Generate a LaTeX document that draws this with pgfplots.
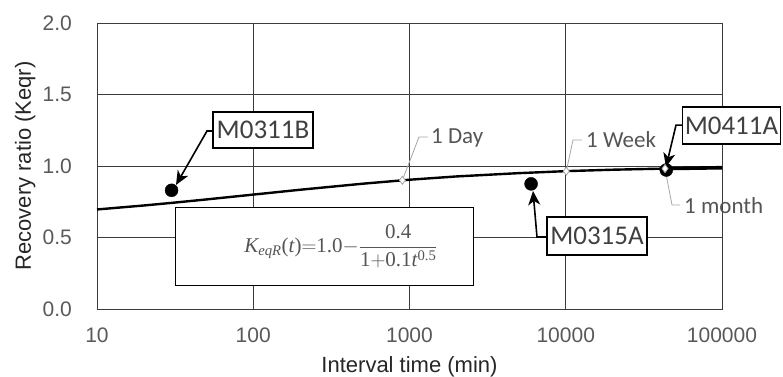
\documentclass[border=0pt]{standalone}
\usepackage{amsmath}
\usepackage{fontspec}
\setmainfont{Liberation Sans}
\newfontfamily\calib{Carlito}
\newfontfamily\timesf{Liberation Serif}
\usepackage{pgfplots}
\pgfplotsset{compat=1.18}
\usetikzlibrary{arrows.meta}
\definecolor{gridc}{HTML}{3C3C3C}
\definecolor{tickc}{HTML}{595959}
\definecolor{annc}{HTML}{555555}
\definecolor{leadc}{HTML}{A6A6A6}
\definecolor{boxt}{HTML}{404040}
\begin{document}
\begin{tikzpicture}
\begin{axis}[
 scale only axis, width=625pt, height=286pt,
 xmode=log, xmin=10, xmax=100000, ymin=0, ymax=2,
 xtick={10,100,1000,10000,100000},
 xticklabels={10,100,1000,10000,100000},
 xminorticks=false,
 ytick={0,0.5,1,1.5,2},
 yticklabels={0.0,0.5,1.0,1.5,2.0},
 grid=major, major grid style={gridc, line width=0.8pt},
 axis line style={gridc, line width=0.8pt},
 major tick length=0pt, minor tick length=0pt,
 tick label style={font=\fontsize{21}{24}\selectfont, text=tickc, inner sep=0pt},
 yticklabel style={xshift=-25pt},
 xticklabel style={yshift=-19pt},
 xlabel={Interval time (min)}, ylabel={Recovery ratio (Keqr)},
 label style={font=\fontsize{22}{26}\selectfont, text=black!85},
 xlabel style={at={(axis description cs:0.5,-0.203)}, anchor=center},
 ylabel style={at={(axis description cs:-0.115,0.5)}, anchor=center},
 clip=false,
]
\addplot[black, line width=2.4pt] coordinates {(10,0.696)(20,0.724)(30,0.742)(50,0.766)(100,0.800)(200,0.834)(500,0.876)(1000,0.904)(2000,0.927)(5000,0.950)(10000,0.964)(20000,0.974)(43200,0.982)(50000,0.983)(100000,0.988)};
\addplot[black, line width=3.6pt] coordinates {(43200,0.982)(100000,0.988)};
\addplot[only marks, mark=*, mark size=6.5pt, black] coordinates {(30,0.83)(6000,0.875)(44000,0.972)};
\addplot[only marks, mark=diamond*, mark size=4pt, mark options={fill=white, draw=leadc, line width=0.8pt}] coordinates {(900,0.90)(10080,0.964)(43200,0.982)};

% small gray labels
\draw[leadc, line width=0.8pt] (axis cs:900,0.90) -- (rel axis cs:0.5152,0.6014) -- (rel axis cs:0.5296,0.6014);
\node[anchor=west, text=annc, font=\calib\fontsize{23}{27}\selectfont, inner sep=0pt] at (rel axis cs:0.5344,0.598) {1 Day};
\draw[leadc, line width=0.8pt] (axis cs:10080,0.964) -- (rel axis cs:0.7616,0.5909) -- (rel axis cs:0.776,0.5909);
\node[anchor=west, text=annc, font=\calib\fontsize{23}{27}\selectfont, inner sep=0pt] at (rel axis cs:0.7824,0.5909) {1 Week};
\draw[leadc, line width=0.8pt] (axis cs:43200,0.982) -- (rel axis cs:0.92,0.3636) -- (rel axis cs:0.9328,0.3636);
\node[anchor=west, text=annc, font=\calib\fontsize{23}{27}\selectfont, inner sep=0pt] at (rel axis cs:0.9392,0.3601) {1 month};

% formula box
\node[draw=black, line width=0.8pt, fill=white, minimum width=298pt, minimum height=78pt, inner sep=0pt] at (rel axis cs:0.3632,0.2203) {};
\node[text=annc, font=\timesf\fontsize{21}{25}\selectfont] at (rel axis cs:0.3904,0.2203) {$\textit{K}_{\textit{eqR}}\text{(}\textit{t}\text{)}\mathord{=}\text{1.0}\mathord{-}\dfrac{\text{0.4}}{\text{1}\mathord{+}\text{0.1}\textit{t}^{\text{0.5}}}$};

% callouts
\draw[black, line width=1.6pt, -{Stealth[length=14pt,width=12pt,inset=4pt]}] (rel axis cs:0.1856,0.6224) -- (rel axis cs:0.176,0.6224) -- (rel axis cs:0.1264,0.4336);
\node[draw=black, line width=1.5pt, fill=white, minimum width=100pt, minimum height=36pt, inner sep=0pt, font=\calib\fontsize{27}{32}\selectfont, text=boxt] at (rel axis cs:0.2656,0.626) {M0311B};
\draw[black, line width=1.6pt, -{Stealth[length=14pt,width=12pt,inset=4pt]}] (rel axis cs:0.9376,0.643) -- (rel axis cs:0.9264,0.643) -- (rel axis cs:0.9104,0.4965);
\node[draw=black, line width=1.5pt, fill=white, minimum width=98pt, minimum height=37pt, inner sep=0pt, font=\calib\fontsize{27}{32}\selectfont, text=boxt] at (rel axis cs:1.0152,0.6416) {M0411A};
\draw[black, line width=1.6pt, -{Stealth[length=14pt,width=12pt,inset=4pt]}] (rel axis cs:0.72,0.2517) -- (rel axis cs:0.704,0.2517) -- (rel axis cs:0.6976,0.4126);
\node[draw=black, line width=1.5pt, fill=white, minimum width=100pt, minimum height=38pt, inner sep=0pt, font=\calib\fontsize{27}{32}\selectfont, text=boxt] at (rel axis cs:0.8,0.2552) {M0315A};
\end{axis}
\pgfresetboundingbox
\path[use as bounding box] ([xshift=-97pt,yshift=-68pt]current axis.south west) rectangle ([xshift=61pt,yshift=23pt]current axis.north east);
\end{tikzpicture}
\end{document}
